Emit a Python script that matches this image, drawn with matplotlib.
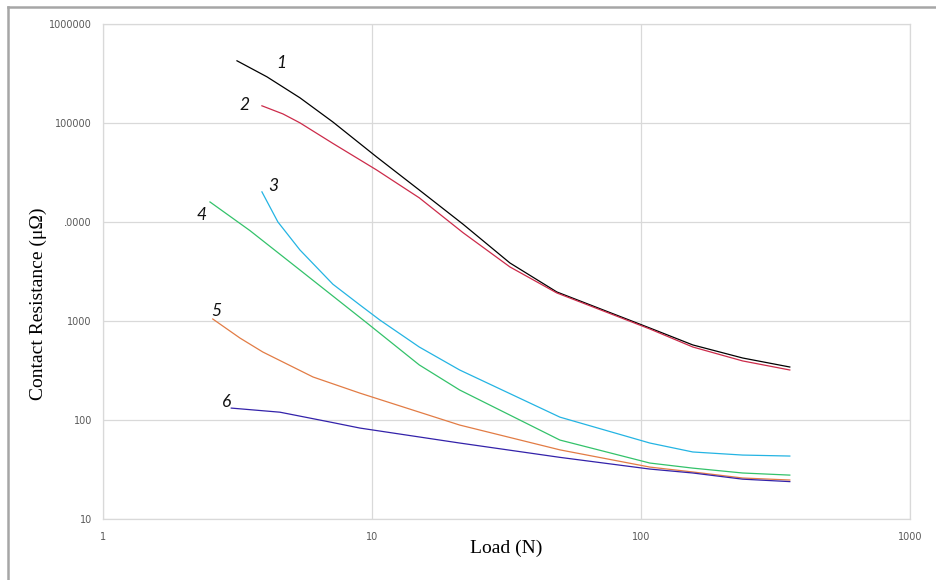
import numpy as np
import matplotlib.pyplot as plt
from matplotlib.lines import Line2D
from matplotlib.ticker import FixedLocator, NullLocator

# ==========================================
# Data (log-log)
# ==========================================
load_1 = [3.15, 4.07, 5.4, 7.16, 10.4, 15, 21.8, 32.6, 48.7, 108, 156, 239, 358]
res_1 = [423000, 291600, 179000, 102000, 45400, 21000, 9500, 3850, 1963, 849, 573, 423, 343]

load_2 = [3.9, 4.67, 5.4, 7.16, 10.4, 15, 21.8, 32.6, 48.7, 108, 156, 239, 358]
res_2 = [148600, 123000, 100000, 62000, 33500, 17500, 7800, 3510, 1918, 830, 546, 395, 320]

load_3 = [3.9, 4.47, 5.4, 7.16, 9.02, 10.7, 15, 21.2, 50, 108, 156, 239, 358]
res_3 = [20100, 10000, 5210, 2350, 1452, 1023, 546, 320, 107, 58.6, 47.6, 44.3, 43.3]

load_4 = [2.5, 3.52, 5.4, 9.58, 15, 21.2, 50, 108, 156, 239, 358]
res_4 = [15900, 8170, 3270, 955, 360, 201, 62.8, 36.8, 32.7, 29.2, 27.8]

load_5 = [2.56, 3.23, 3.93, 6.04, 9.02, 21.2, 50, 108, 156, 239, 358]
res_5 = [1047, 673, 486, 272, 187, 89, 50, 33.5, 29.9, 26, 24.8]

load_6 = [3.0, 4.55, 6.98, 9.02, 21.2, 50, 108, 156, 239, 358]
res_6 = [132, 120, 95.5, 83, 58.6, 42, 32, 29.2, 25.3, 23.9]

curve_names = ['1', '2', '3', '4', '5', '6']
curve_colors = ['#000000', '#cc2b4a', '#24b4e3', '#33c26a', '#e27c45', '#3322aa']
# where the italic curve numbers sit (data coords)
label_x = [4.59, 3.37, 4.29, 2.33, 2.65, 2.89]
label_y = [403000, 152000, 23100, 11800, 1260, 152]

x_ticks = [1, 10, 100, 1000]
y_ticks = [10, 100, 1000, 10000, 100000, 1000000]

loads = [load_1, load_2, load_3, load_4, load_5, load_6]
resistances = [res_1, res_2, res_3, res_4, res_5, res_6]

# ==========================================
# Plot
# ==========================================
fig = plt.figure(figsize=(9.36, 5.8), dpi=100)
ax = fig.add_axes([0.110, 0.105, 0.862, 0.854])

for x, y, c in zip(loads, resistances, curve_colors):
    ax.plot(x, y, color=c, linewidth=0.9)

for name, lx, ly in zip(curve_names, label_x, label_y):
    ax.text(lx, ly, name, fontsize=12.5, style='italic', family='Lato',
            ha='center', va='center', color='#111111')

ax.set_xscale('log')
ax.set_yscale('log')
ax.set_xlim(1, 1000)
ax.set_ylim(10, 1000000)

ax.xaxis.set_major_locator(FixedLocator(x_ticks))
ax.yaxis.set_major_locator(FixedLocator(y_ticks))
ax.xaxis.set_minor_locator(NullLocator())
ax.yaxis.set_minor_locator(NullLocator())
ax.set_xticklabels([str(t) for t in x_ticks])
ax.set_yticklabels([str(t) for t in y_ticks])
ax.tick_params(length=0, labelsize=7, labelcolor='#595959')
ax.tick_params(axis='x', pad=9)
ax.tick_params(axis='y', pad=8)

ax.grid(True, color='#d9d9d9', linewidth=0.9)
ax.set_axisbelow(True)
for side in ax.spines:
    ax.spines[side].set_color('#d9d9d9')
    ax.spines[side].set_linewidth(0.9)

ax.set_xlabel('Load (N)', family='Liberation Serif', fontsize=14)
ax.xaxis.set_label_coords(0.5, -0.042)
# white box behind the y label hides the first digit of "10000", as in the original
ax.set_ylabel('Contact Resistance (\u03bc\u03a9)', family='Liberation Serif', fontsize=14,
              bbox=dict(facecolor='white', edgecolor='none', pad=13))
ax.yaxis.set_label_coords(-0.069, 0.434)

# gray frame around the picture (top and left visible)
fig.add_artist(Line2D([8 / 936, 8 / 936], [0, 1 - 7 / 580], transform=fig.transFigure,
                      color='#a6a6a6', linewidth=1.8))
fig.add_artist(Line2D([8 / 936, 1], [1 - 7 / 580, 1 - 7 / 580], transform=fig.transFigure,
                      color='#a6a6a6', linewidth=1.8))

plt.savefig('out.png', dpi=100)
